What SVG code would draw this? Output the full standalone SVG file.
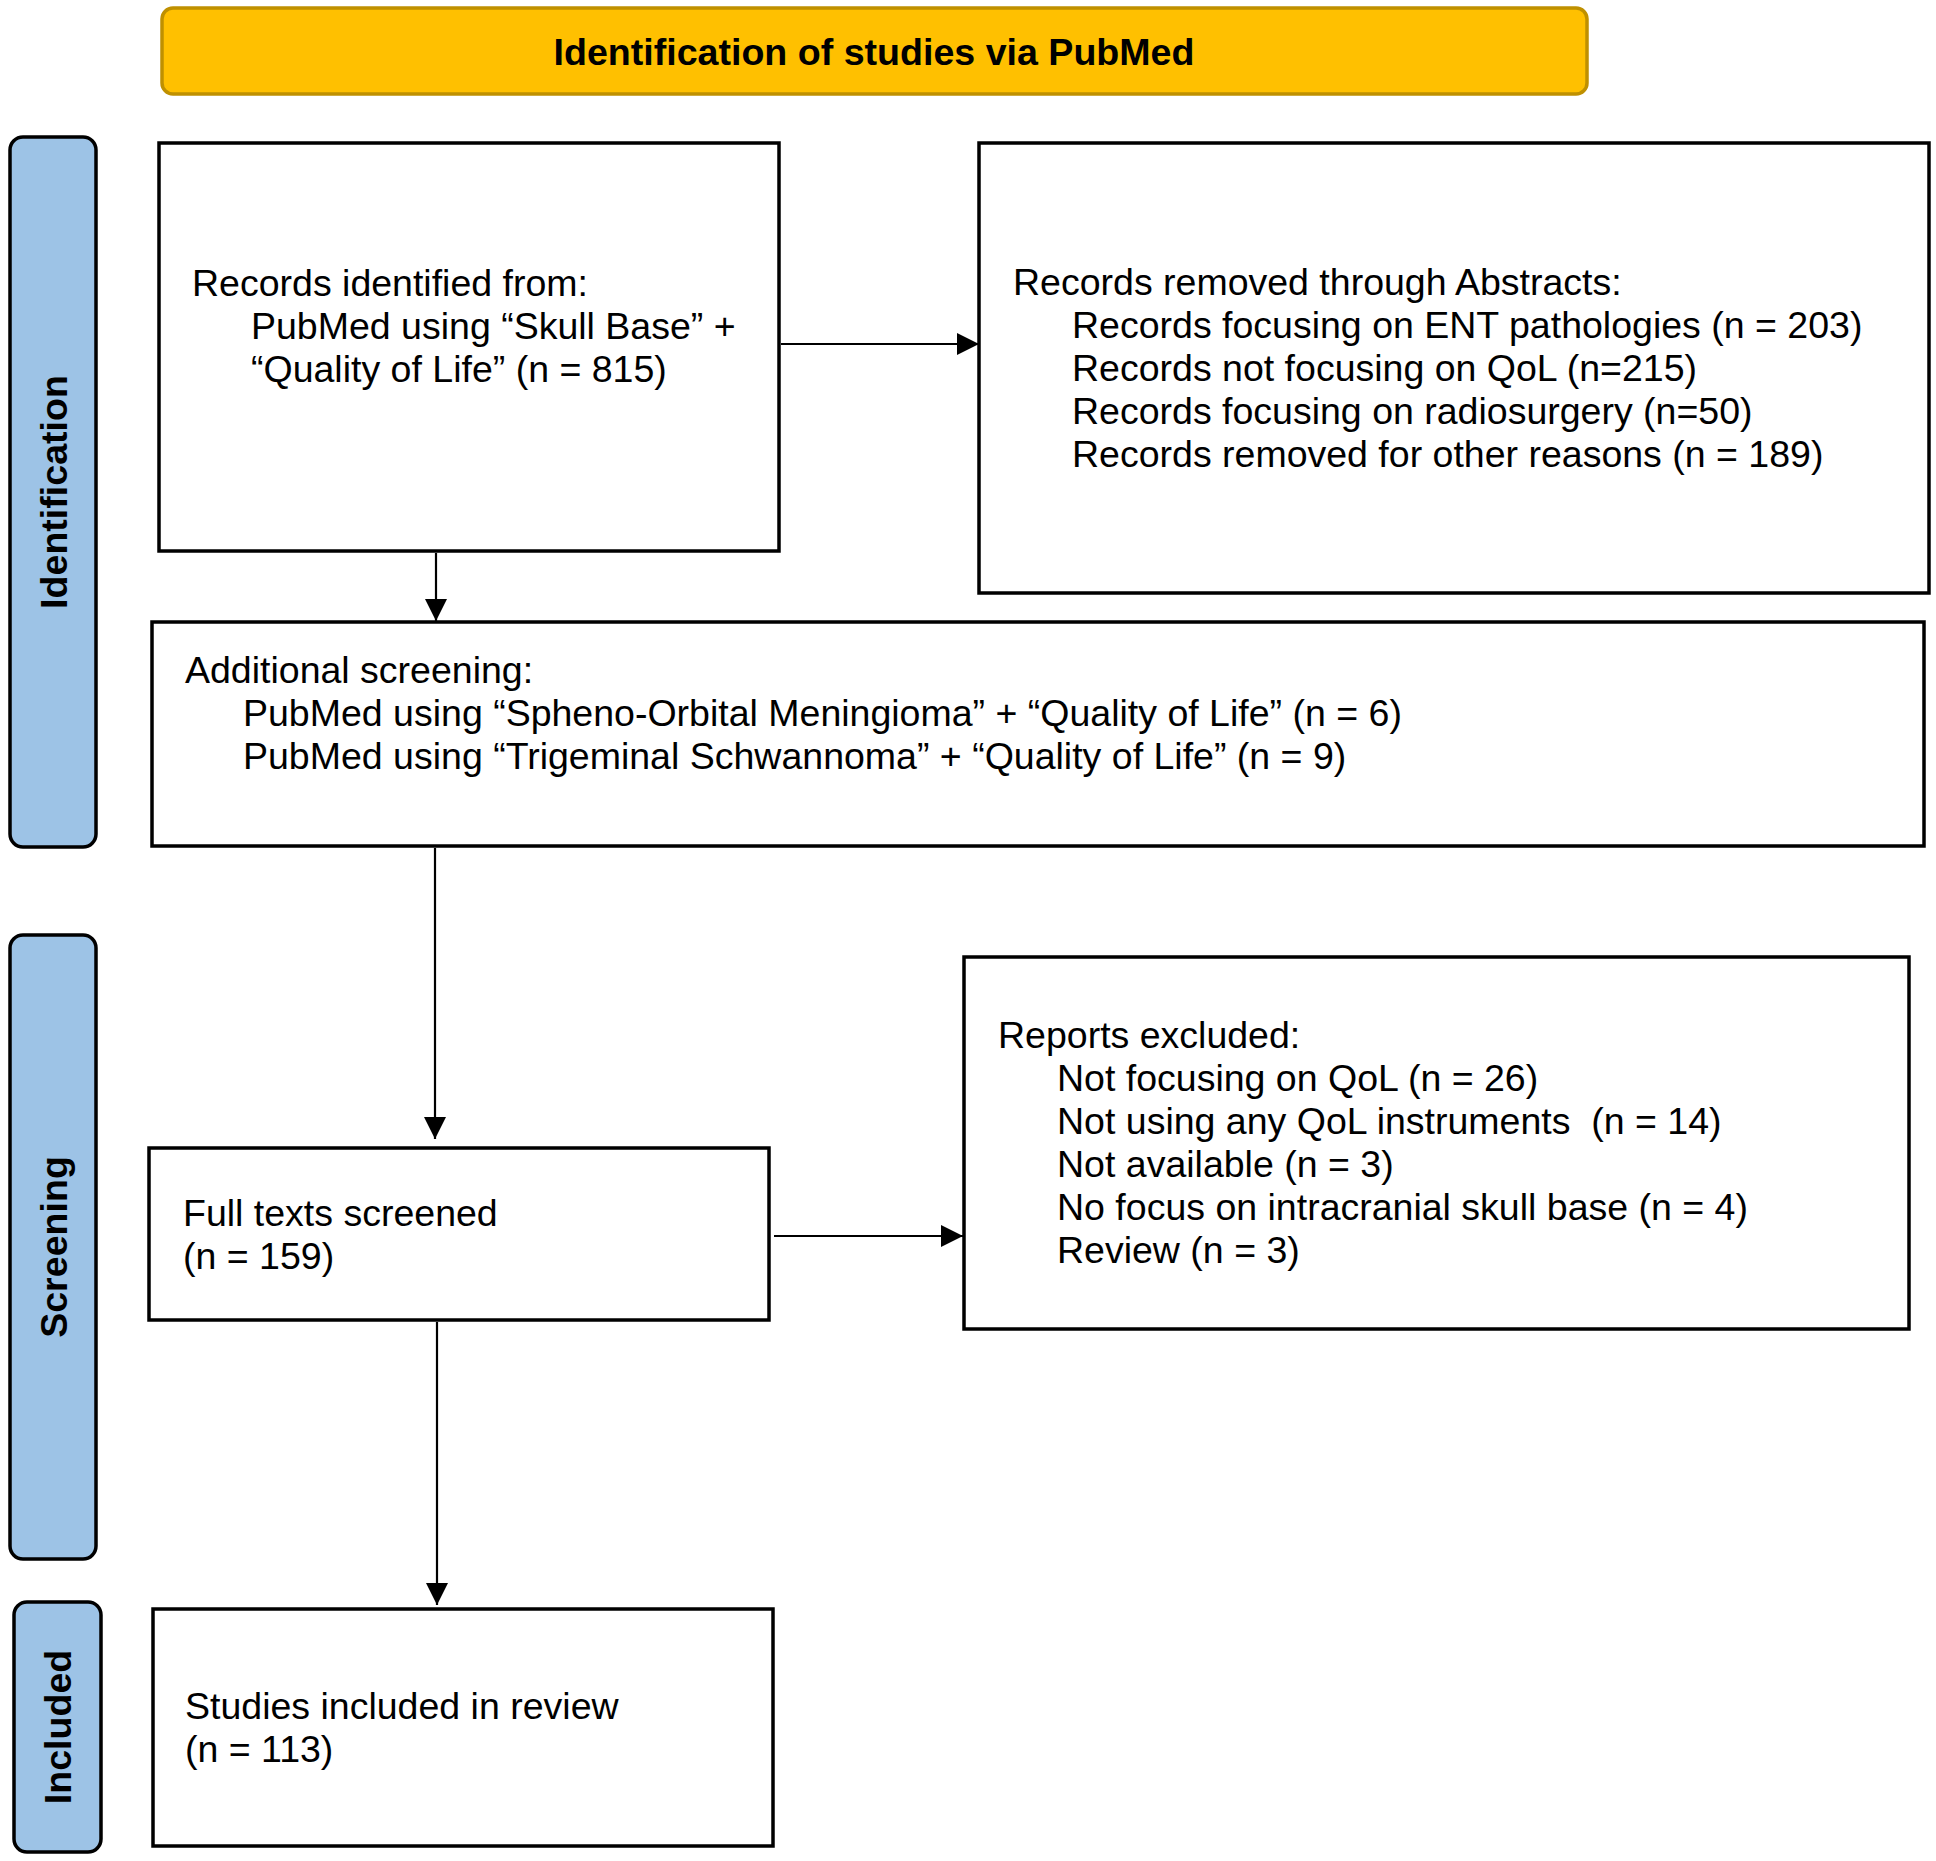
<svg xmlns="http://www.w3.org/2000/svg" width="1936" height="1861" viewBox="0 0 1936 1861">
<style>
.box{fill:#fff;stroke:#000;stroke-width:3.5}
.bar{fill:#9DC3E6;stroke:#000;stroke-width:3.5}
.t{font-family:"Liberation Sans",Arial,sans-serif;font-size:37.5px;fill:#000}
.b{font-family:"Liberation Sans",Arial,sans-serif;font-size:37.6px;font-weight:bold;fill:#000}
.c{fill:none;stroke:#000;stroke-width:2.2}
</style>
<defs>
<marker id="ah" markerUnits="userSpaceOnUse" markerWidth="22" markerHeight="22" refX="22" refY="11" orient="auto">
<path d="M0,0 L22,11 L0,22 z" fill="#000"/>
</marker>
</defs>
<rect width="1936" height="1861" fill="#fff"/>
<g id="header">
<rect x="162" y="8" width="1425" height="86" rx="11" fill="#FFC000" stroke="#BF9000" stroke-width="3.5"/>
<text class="b" x="874" y="65" text-anchor="middle">Identification of studies via PubMed</text>
</g>
<g id="bar-identification">
<rect class="bar" x="10" y="137" width="86" height="710" rx="13"/>
<text class="b" transform="translate(67,492) rotate(-90)" text-anchor="middle">Identification</text>
</g>
<g id="bar-screening">
<rect class="bar" x="10" y="935" width="86" height="624" rx="13"/>
<text class="b" transform="translate(67,1247) rotate(-90)" text-anchor="middle">Screening</text>
</g>
<g id="bar-included">
<rect class="bar" x="14" y="1602" width="87" height="250" rx="13"/>
<text class="b" transform="translate(71,1727) rotate(-90)" text-anchor="middle">Included</text>
</g>
<g id="records-identified">
<rect class="box" x="159" y="143" width="620" height="408"/>
<text class="t" x="192" y="296">Records identified from:</text>
<text class="t" x="251" y="339">PubMed using “Skull Base” +</text>
<text class="t" x="251" y="382">“Quality of Life” (n = 815)</text>
</g>
<g id="records-removed">
<rect class="box" x="979" y="143" width="950" height="450"/>
<text class="t" x="1013" y="295">Records removed through Abstracts:</text>
<text class="t" x="1072" y="338">Records focusing on ENT pathologies (n = 203)</text>
<text class="t" x="1072" y="381">Records not focusing on QoL (n=215)</text>
<text class="t" x="1072" y="424">Records focusing on radiosurgery (n=50)</text>
<text class="t" x="1072" y="467">Records removed for other reasons (n = 189)</text>
</g>
<g id="additional-screening">
<rect class="box" x="152" y="622" width="1772" height="224"/>
<text class="t" x="185" y="683">Additional screening:</text>
<text class="t" x="243" y="726">PubMed using “Spheno-Orbital Meningioma” + “Quality of Life” (n = 6)</text>
<text class="t" x="243" y="769">PubMed using “Trigeminal Schwannoma” + “Quality of Life” (n = 9)</text>
</g>
<g id="full-texts">
<rect class="box" x="149" y="1148" width="620" height="172"/>
<text class="t" x="183" y="1226">Full texts screened</text>
<text class="t" x="183" y="1269">(n = 159)</text>
</g>
<g id="reports-excluded">
<rect class="box" x="964" y="957" width="945" height="372"/>
<text class="t" x="998" y="1048">Reports excluded:</text>
<text class="t" x="1057" y="1091">Not focusing on QoL (n = 26)</text>
<text class="t" x="1057" y="1134" xml:space="preserve">Not using any QoL instruments  (n = 14)</text>
<text class="t" x="1057" y="1177">Not available (n = 3)</text>
<text class="t" x="1057" y="1220">No focus on intracranial skull base (n = 4)</text>
<text class="t" x="1057" y="1263">Review (n = 3)</text>
</g>
<g id="studies-included">
<rect class="box" x="153" y="1609" width="620" height="237"/>
<text class="t" x="185" y="1719">Studies included in review</text>
<text class="t" x="185" y="1762">(n = 113)</text>
</g>
<g id="connectors">
<line class="c" x1="781" y1="344" x2="979" y2="344" marker-end="url(#ah)"/>
<line class="c" x1="436" y1="553" x2="436" y2="621" marker-end="url(#ah)"/>
<line class="c" x1="435" y1="848" x2="435" y2="1139" marker-end="url(#ah)"/>
<line class="c" x1="774" y1="1236" x2="963" y2="1236" marker-end="url(#ah)"/>
<line class="c" x1="437" y1="1322" x2="437" y2="1605" marker-end="url(#ah)"/>
</g>
</svg>
